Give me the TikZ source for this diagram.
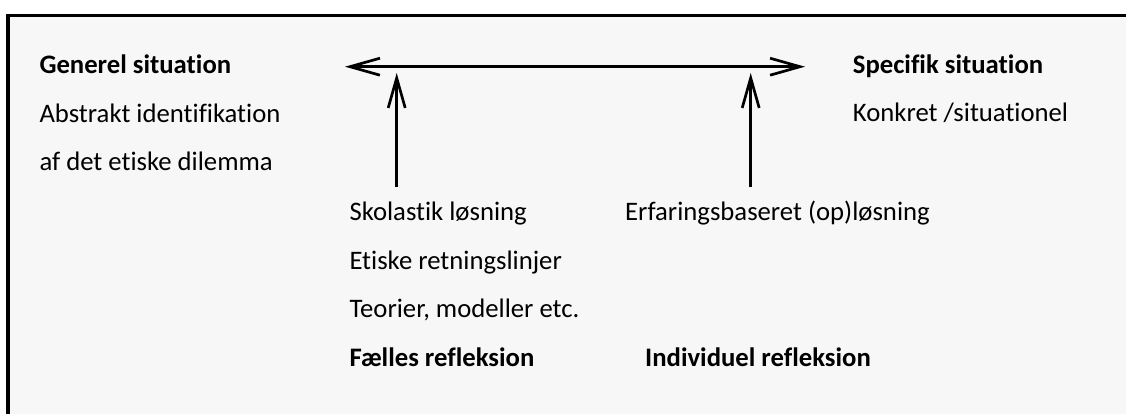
\documentclass[tikz,border=0pt]{standalone}
\usepackage{fontspec}
\setmainfont{Carlito}[Ligatures=NoCommon]
\usetikzlibrary{arrows.meta}
\definecolor{panel}{HTML}{F7F7F7}
\tikzset{
  lbl/.style={anchor=base west, inner sep=0pt, font=\fontsize{26.7}{32}\selectfont},
  head/.style={lbl, font=\fontsize{26.7}{32}\selectfont\bfseries},
  arr/.style={line width=2.7pt, -{Straight Barb[length=30pt, width=17pt]}},
  darr/.style={line width=2.7pt, {Straight Barb[length=30pt, width=17pt]}-{Straight Barb[length=30pt, width=17pt]}},
}
\begin{document}
\begin{tikzpicture}[x=1pt, y=-1pt]
  \useasboundingbox (0,0) rectangle (1126,414);
  % panel and its frame (open to the right and bottom)
  \fill[white] (0,0) rectangle (1126,414);
  \fill[panel] (8,15.3) rectangle (1126,414);
  \draw[line width=3.5pt] (8,414) -- (8,15.3) -- (1126,15.3);

  % left column
  \node[head] (gen) at (39.3,73.3) {Generel situation};
  \node[lbl] (abs) at (39.3,122.7) {Abstrakt identifikation};
  \node[lbl] (dil) at (39.3,170.5) {af det etiske dilemma};

  % right column
  \node[head] (spec) at (852.7,73.3) {Specifik situation};
  \node[lbl] (konk) at (852.7,121.7) {Konkret /situationel};

  % lower middle texts
  \node[lbl] (skol) at (349.3,220) {Skolastik løsning};
  \node[lbl] (etik) at (349.3,269) {Etiske retningslinjer};
  \node[lbl] (teor) at (349.3,317.7) {Teorier, modeller etc.};
  \node[head] (faell) at (349.3,366.2) {Fælles refleksion};
  \node[lbl] (erf) at (625,220) {Erfaringsbaseret (op)løsning};
  \node[head] (indiv) at (645,366.5) {Individuel refleksion};

  % arrow end points
  \coordinate (hl) at (345,66.7);
  \coordinate (hr) at (805,66.7);
  \coordinate (lbot) at (396.7,186.7);
  \coordinate (ltop) at (396.7,73);
  \coordinate (rbot) at (750.7,186.7);
  \coordinate (rtop) at (750.7,73);

  \draw[darr] (hl) -- (hr);
  \draw[arr] (lbot) -- (ltop);
  \draw[arr] (rbot) -- (rtop);
\end{tikzpicture}
\end{document}
